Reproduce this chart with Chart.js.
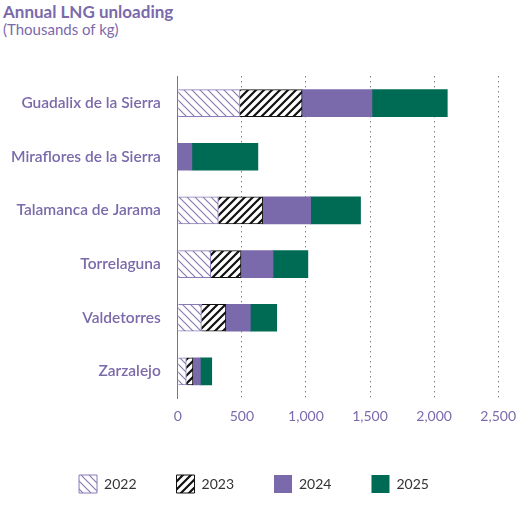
<!DOCTYPE html>
<html>
<head>
<meta charset="utf-8">
<script src="https://cdn.jsdelivr.net/npm/chart.js@4"></script>
<style>
  body { margin: 0; background: #fff; font-family: Lato, sans-serif; }
  #wrap { position: relative; width: 526px; height: 531px; }
  h1 { position: absolute; left: 3px; top: 1px; margin: 0; font-size: 17px; font-weight: bold; color: #7b6aab; }
  h2 { position: absolute; left: 3px; top: 20px; margin: 0; font-size: 15px; font-weight: normal; color: #7b6aab; }
  #c { position: absolute; left: 0; top: 58px; }
</style>
</head>
<body>
<div id="wrap">
  <h1>Annual LNG unloading</h1>
  <h2>(Thousands of kg)</h2>
  <canvas id="c" width="526" height="445"></canvas>
</div>
<script>
// datos
const categorias = ['Guadalix de la Sierra', 'Miraflores de la Sierra', 'Talamanca de Jarama', 'Torrelaguna', 'Valdetorres', 'Zarzalejo'];
const anios = ['2022', '2023', '2024', '2025'];
const v2022 = [485, 0, 316, 257, 184, 66];
const v2023 = [485, 0, 346, 236, 191, 52];
const v2024 = [545, 110, 375, 250, 191, 58];
const v2025 = [588, 515, 389, 272, 206, 89];
const ticksX = [0, 500, 1000, 1500, 2000, 2500];

// patrones rayados
function rayas(color, invertido) {
  const c = document.createElement('canvas');
  c.width = 8; c.height = 8;
  const g = c.getContext('2d');
  g.fillStyle = '#fff';
  g.fillRect(0, 0, 8, 8);
  g.strokeStyle = color;
  g.lineWidth = invertido ? 2.2 : 1.2;
  g.beginPath();
  if (invertido) {
    g.moveTo(0, 8); g.lineTo(8, 0);
    g.moveTo(-4, 4); g.lineTo(4, -4);
    g.moveTo(4, 12); g.lineTo(12, 4);
  } else {
    g.moveTo(0, 0); g.lineTo(8, 8);
    g.moveTo(-4, 4); g.lineTo(4, 12);
    g.moveTo(4, -4); g.lineTo(12, 4);
  }
  g.stroke();
  return g.createPattern(c, 'repeat');
}

const ctx = document.getElementById('c').getContext('2d');
const morado = '#7b6aab';

new Chart(ctx, {
  type: 'bar',
  data: {
    labels: categorias,
    datasets: [
      { label: anios[0], data: v2022, backgroundColor: rayas('#8a7bb8', false), borderColor: '#8a7bb8', borderWidth: 1 },
      { label: anios[1], data: v2023, backgroundColor: rayas('#111', true), borderColor: '#111', borderWidth: 1 },
      { label: anios[2], data: v2024, backgroundColor: morado, borderColor: morado, borderWidth: 0 },
      { label: anios[3], data: v2025, backgroundColor: '#006b55', borderColor: '#006b55', borderWidth: 0 }
    ]
  },
  options: {
    indexAxis: 'y',
    responsive: false,
    animation: false,
    layout: { padding: { right: 20, top: 0, left: 2 } },
    datasets: { bar: { barThickness: 27 } },
    scales: {
      x: {
        stacked: true, min: 0, max: 2500,
        afterBuildTicks: a => { a.ticks = ticksX.map(v => ({ value: v })); },
        grid: { color: '#444', lineWidth: 1, drawTicks: false },
        border: { display: false, dash: [1, 4] },
        ticks: { color: morado, font: { family: 'Lato', size: 14 }, padding: 10,
          callback: v => v.toLocaleString('en-US') }
      },
      y: {
        stacked: true,
        grid: { display: false },
        border: { color: '#777', width: 1 },
        ticks: { color: morado, font: { family: 'Lato', size: 15.5, weight: '600' }, padding: 9 }
      }
    },
    plugins: {
      legend: {
        position: 'bottom',
        labels: { color: '#333', font: { family: 'Lato', size: 14 }, boxWidth: 18, boxHeight: 18, padding: 40 }
      },
      tooltip: { enabled: false }
    }
  }
});
</script>
</body>
</html>
